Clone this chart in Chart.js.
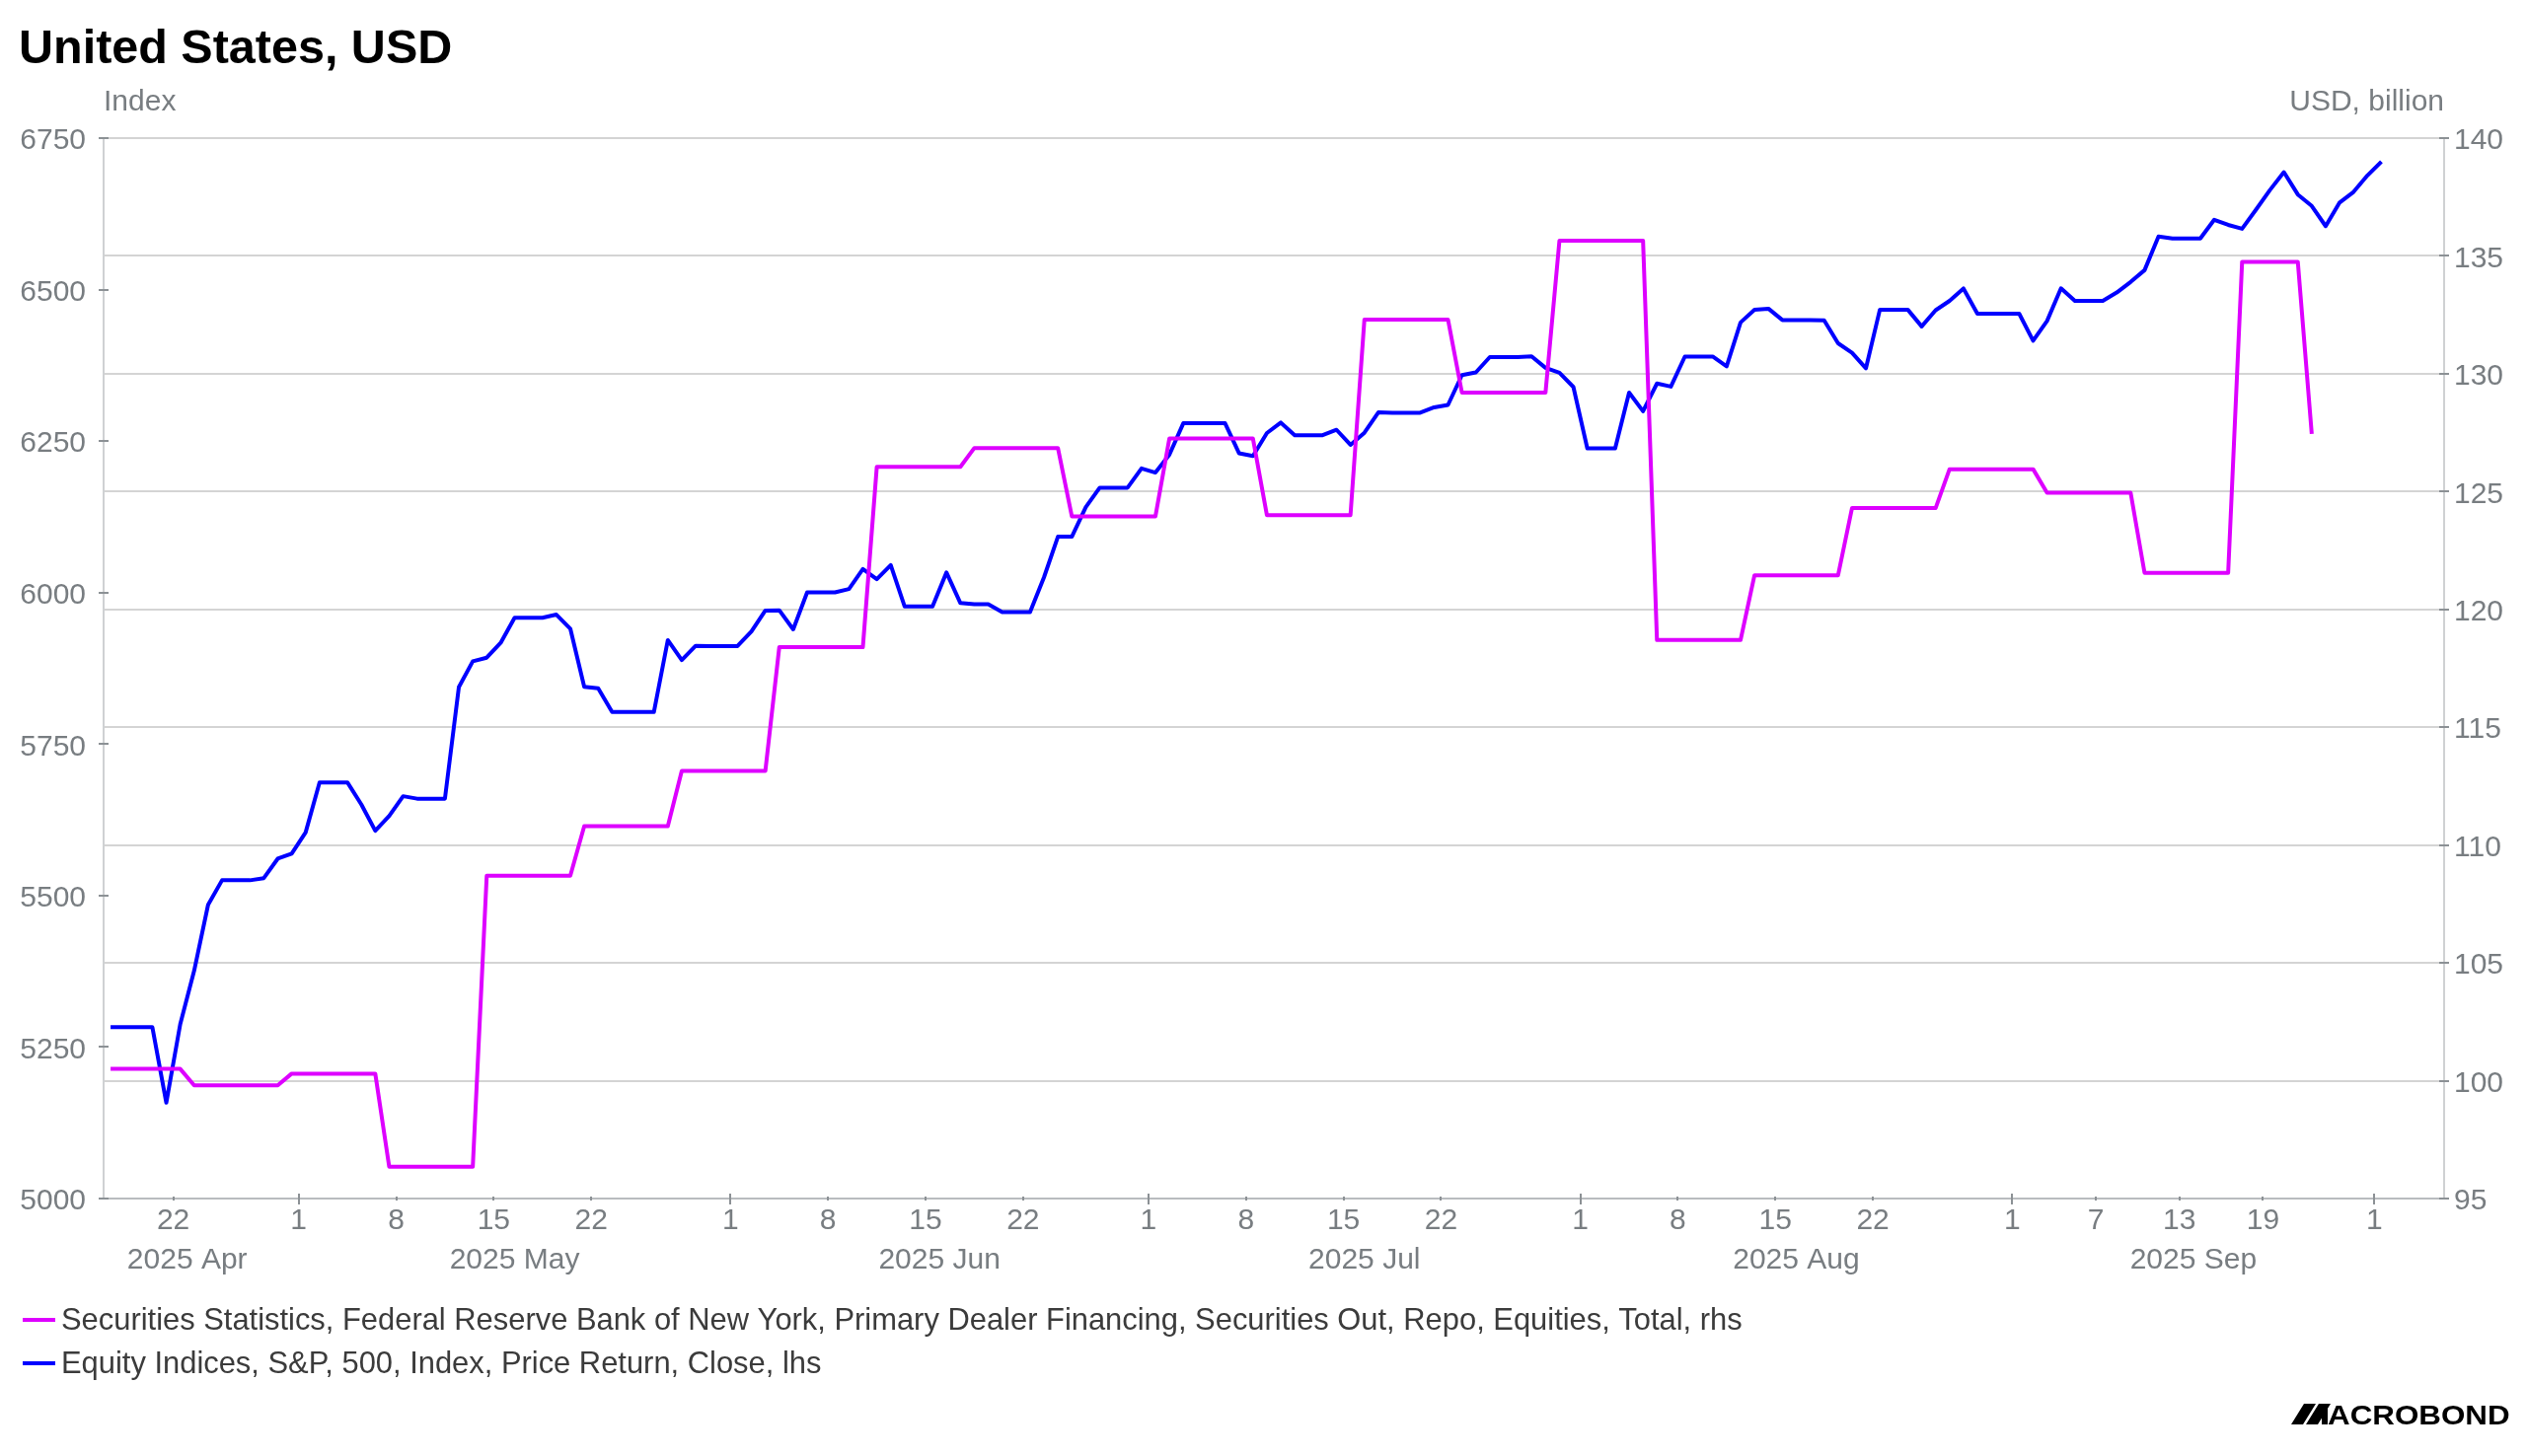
<!DOCTYPE html>
<html>
<head>
<meta charset="utf-8">
<title>United States, USD</title>
<script src="https://cdn.jsdelivr.net/npm/chart.js@4.4.1/dist/chart.umd.min.js"></script>
<style>
  html, body { margin: 0; padding: 0; background: #ffffff; }
  #chart { display: block; }
</style>
</head>
<body>
<canvas id="chart" width="2560" height="1476"></canvas>
<script>
// one slot per date on the x axis (calendar days, then trading days only after 19 Sep)
const dates = [
  '04-17','04-18','04-19','04-20','04-21','04-22','04-23','04-24','04-25','04-26','04-27','04-28','04-29','04-30',
  '05-01','05-02','05-03','05-04','05-05','05-06','05-07','05-08','05-09','05-10','05-11','05-12','05-13','05-14','05-15','05-16',
  '05-17','05-18','05-19','05-20','05-21','05-22','05-23','05-24','05-25','05-26','05-27','05-28','05-29','05-30','05-31',
  '06-01','06-02','06-03','06-04','06-05','06-06','06-07','06-08','06-09','06-10','06-11','06-12','06-13','06-14','06-15',
  '06-16','06-17','06-18','06-19','06-20','06-21','06-22','06-23','06-24','06-25','06-26','06-27','06-28','06-29','06-30',
  '07-01','07-02','07-03','07-04','07-05','07-06','07-07','07-08','07-09','07-10','07-11','07-12','07-13','07-14','07-15','07-16',
  '07-17','07-18','07-19','07-20','07-21','07-22','07-23','07-24','07-25','07-26','07-27','07-28','07-29','07-30','07-31',
  '08-01','08-02','08-03','08-04','08-05','08-06','08-07','08-08','08-09','08-10','08-11','08-12','08-13','08-14','08-15','08-16',
  '08-17','08-18','08-19','08-20','08-21','08-22','08-23','08-24','08-25','08-26','08-27','08-28','08-29','08-30','08-31',
  '09-01','09-02','09-03','09-04','09-05','09-06','09-07','09-08','09-09','09-10','09-11','09-12','09-13','09-14','09-15','09-16',
  '09-17','09-18','09-19','09-22','09-23','09-24','09-25','09-26','09-29','09-30',
  '10-01'
];

// S&P 500 close, lhs (weekends and holidays flat in the source)
const spx = [
  5282.70, 5282.70, 5282.70, 5282.70, 5158.20, 5287.76, 5375.86, 5484.77, 5525.21, 5525.21, 5525.21, 5528.75, 5560.83, 5569.06,
  5604.14, 5686.67, 5686.67, 5686.67, 5650.38, 5606.91, 5631.28, 5663.94, 5659.91, 5659.91, 5659.91, 5844.19, 5886.55, 5892.58, 5916.93, 5958.38,
  5958.38, 5958.38, 5963.60, 5940.46, 5844.61, 5842.01, 5802.82, 5802.82, 5802.82, 5802.82, 5921.54, 5888.55, 5912.17, 5911.69, 5911.69,
  5911.69, 5935.94, 5970.37, 5970.81, 5939.30, 6000.36, 6000.36, 6000.36, 6005.88, 6038.81, 6022.24, 6045.26, 5976.97, 5976.97, 5976.97,
  6033.11, 5982.72, 5980.87, 5980.87, 5967.84, 5967.84, 5967.84, 6025.17, 6092.18, 6092.16, 6141.02, 6173.07, 6173.07, 6173.07, 6204.95,
  6198.01, 6227.42, 6279.35, 6279.35, 6279.35, 6279.35, 6229.98, 6225.52, 6263.26, 6280.46, 6259.75, 6259.75, 6259.75, 6268.56, 6243.76, 6263.70,
  6297.36, 6296.79, 6296.79, 6296.79, 6305.60, 6309.62, 6358.91, 6363.35, 6388.64, 6388.64, 6388.64, 6389.77, 6370.86, 6362.90, 6339.39,
  6238.01, 6238.01, 6238.01, 6329.94, 6299.19, 6345.06, 6340.00, 6389.45, 6389.45, 6389.45, 6373.45, 6445.76, 6466.58, 6468.54, 6449.80, 6449.80,
  6449.80, 6449.15, 6411.37, 6395.78, 6370.17, 6466.91, 6466.91, 6466.91, 6439.32, 6465.94, 6481.40, 6501.86, 6460.26, 6460.26, 6460.26,
  6460.26, 6415.54, 6448.26, 6502.08, 6481.50, 6481.50, 6481.50, 6495.15, 6512.61, 6532.04, 6587.47, 6584.29, 6584.29, 6584.29, 6615.28, 6606.76,
  6600.35, 6631.96, 6664.36, 6693.75, 6656.92, 6637.97, 6604.72, 6643.70, 6661.21, 6688.46,
  6711.20
];

// primary dealer repo financing, equities, USD bn, rhs (ends 24 Sep)
const repo = [
  100.5, 100.5, 100.5, 100.5, 100.5, 100.5, 99.8, 99.8, 99.8, 99.8, 99.8, 99.8, 99.8, 100.3,
  100.3, 100.3, 100.3, 100.3, 100.3, 100.3, 96.35, 96.35, 96.35, 96.35, 96.35, 96.35, 96.35, 108.7, 108.7, 108.7,
  108.7, 108.7, 108.7, 108.7, 110.8, 110.8, 110.8, 110.8, 110.8, 110.8, 110.8, 113.15, 113.15, 113.15, 113.15,
  113.15, 113.15, 113.15, 118.4, 118.4, 118.4, 118.4, 118.4, 118.4, 118.4, 126.05, 126.05, 126.05, 126.05, 126.05,
  126.05, 126.05, 126.85, 126.85, 126.85, 126.85, 126.85, 126.85, 126.85, 123.95, 123.95, 123.95, 123.95, 123.95, 123.95,
  123.95, 127.25, 127.25, 127.25, 127.25, 127.25, 127.25, 127.25, 124.0, 124.0, 124.0, 124.0, 124.0, 124.0, 124.0, 132.3,
  132.3, 132.3, 132.3, 132.3, 132.3, 132.3, 129.2, 129.2, 129.2, 129.2, 129.2, 129.2, 129.2, 135.65, 135.65,
  135.65, 135.65, 135.65, 135.65, 135.65, 118.7, 118.7, 118.7, 118.7, 118.7, 118.7, 118.7, 121.45, 121.45, 121.45, 121.45,
  121.45, 121.45, 121.45, 124.3, 124.3, 124.3, 124.3, 124.3, 124.3, 124.3, 125.95, 125.95, 125.95, 125.95, 125.95,
  125.95, 125.95, 124.95, 124.95, 124.95, 124.95, 124.95, 124.95, 124.95, 121.55, 121.55, 121.55, 121.55, 121.55, 121.55, 121.55,
  134.75, 134.75, 134.75, 134.75, 134.75, 127.45
];

const tickDates = ['04-22','05-01','05-08','05-15','05-22','06-01','06-08','06-15','06-22','07-01','07-08','07-15','07-22',
                   '08-01','08-08','08-15','08-22','09-01','09-07','09-13','09-19','10-01'];
const tickLabels = ['22','1','8','15','22','1','8','15','22','1','8','15','22','1','8','15','22','1','7','13','19','1'];
const monthKeys = ['04','05','06','07','08','09'];
const monthLabels = ['2025 Apr','2025 May','2025 Jun','2025 Jul','2025 Aug','2025 Sep'];

const leftTicks = [5000, 5250, 5500, 5750, 6000, 6250, 6500, 6750];
const rightTicks = [95, 100, 105, 110, 115, 120, 125, 130, 135, 140];

const seriesNames = [
  'Securities Statistics, Federal Reserve Bank of New York, Primary Dealer Financing, Securities Out, Repo, Equities, Total, rhs',
  'Equity Indices, S&P, 500, Index, Price Return, Close, lhs'
];
const seriesColors = ['#dd00ff', '#0000ff'];

const FONT = "'Liberation Sans', Arial, Helvetica, sans-serif";
const GREY = '#787d81';

const tickPos = tickDates.map(d => dates.indexOf(d));
const monthStart = monthKeys.map((m, i) => i === 0 ? 0 : dates.findIndex(d => d.startsWith(m + '-')));
monthStart.push(dates.indexOf('10-01'));

const decor = {
  id: 'decor',
  afterDraw(chart) {
    const ctx = chart.ctx;
    const area = chart.chartArea;
    const x = chart.scales.x, yL = chart.scales.yL, yR = chart.scales.yR;
    ctx.save();

    // title and axis units
    ctx.textBaseline = 'middle';
    ctx.fillStyle = '#000';
    ctx.font = 'bold 48.5px ' + FONT;
    ctx.textAlign = 'left';
    ctx.fillText('United States, USD', 19, 51);
    ctx.fillStyle = GREY;
    ctx.font = '30px ' + FONT;
    ctx.fillText('Index', area.left, 104);
    ctx.textAlign = 'right';
    ctx.fillText('USD, billion', area.right, 104);

    // tick marks crossing the axis lines
    ctx.strokeStyle = '#8c9195';
    ctx.lineWidth = 2;
    ctx.beginPath();
    tickPos.forEach((p, i) => {
      const px = Math.round(x.getPixelForValue(p));
      const major = tickLabels[i] === '1';
      ctx.moveTo(px, area.bottom - (major ? 5 : 2));
      ctx.lineTo(px, area.bottom + (major ? 6 : 2));
    });
    leftTicks.forEach(v => {
      const py = Math.round(yL.getPixelForValue(v));
      ctx.moveTo(area.left - 5, py);
      ctx.lineTo(area.left + 5, py);
    });
    rightTicks.forEach(v => {
      const py = Math.round(yR.getPixelForValue(v));
      ctx.moveTo(area.right - 5, py);
      ctx.lineTo(area.right + 5, py);
    });
    ctx.stroke();

    // month labels under the day ticks
    ctx.fillStyle = GREY;
    ctx.font = '30px ' + FONT;
    ctx.textAlign = 'center';
    monthLabels.forEach((lab, i) => {
      let mid = (monthStart[i] + monthStart[i + 1]) / 2;
      if (i === 0) mid -= 1; // partial first month sits a bit left
      ctx.fillText(lab, x.getPixelForValue(mid), 1278);
    });

    // legend
    ctx.textAlign = 'left';
    ctx.font = '30.9px ' + FONT;
    seriesNames.forEach((name, i) => {
      const cy = 1338 + i * 44;
      ctx.strokeStyle = seriesColors[i];
      ctx.lineWidth = 4;
      ctx.beginPath();
      ctx.moveTo(23, cy);
      ctx.lineTo(56, cy);
      ctx.stroke();
      ctx.fillStyle = '#3b3b3b';
      ctx.fillText(name, 62, cy + 1);
    });

    // logo
    ctx.fillStyle = '#000';
    ctx.beginPath();
    ctx.moveTo(2322, 1444); ctx.lineTo(2334, 1444); ctx.lineTo(2347, 1423); ctx.lineTo(2335, 1423); ctx.closePath();
    ctx.moveTo(2337, 1444); ctx.lineTo(2349, 1444); ctx.lineTo(2362, 1423); ctx.lineTo(2350, 1423); ctx.closePath();
    ctx.fill();
    ctx.fillRect(2353, 1423, 6, 21);
    ctx.save();
    ctx.translate(2359, 1444);
    ctx.scale(1.12, 1);
    ctx.font = 'bold 28px ' + FONT;
    ctx.textBaseline = 'alphabetic';
    ctx.fillText('ACROBOND', 0, 0);
    ctx.restore();

    ctx.restore();
  }
};

function main() {
  const canvas = document.querySelector('#chart');

  const chart = new Chart(canvas, {
    type: 'line',
    data: {
      datasets: [
        {
          label: seriesNames[0],
          data: repo.map((v, i) => ({ x: i + 0.5, y: v })),
          yAxisID: 'yR',
          borderColor: seriesColors[0],
          borderWidth: 4,
          pointRadius: 0,
          tension: 0,
          borderJoinStyle: 'round'
        },
        {
          label: seriesNames[1],
          data: spx.map((v, i) => ({ x: i + 0.5, y: v })),
          yAxisID: 'yL',
          borderColor: seriesColors[1],
          borderWidth: 4,
          pointRadius: 0,
          tension: 0,
          borderJoinStyle: 'round'
        }
      ]
    },
    options: {
      responsive: false,
      animation: false,
      devicePixelRatio: 1,
      layout: { padding: { top: 140, left: 0, right: 0, bottom: 0 } },
      plugins: {
        legend: { display: false },
        title: { display: false },
        tooltip: { enabled: false }
      },
      scales: {
        x: {
          type: 'linear',
          min: 0,
          max: dates.length + 4,
          afterBuildTicks: (scale) => { scale.ticks = tickPos.map(v => ({ value: v })); },
          afterFit: (scale) => { scale.height = 261; },
          ticks: {
            autoSkip: false,
            maxRotation: 0,
            padding: 0,
            color: GREY,
            font: { family: FONT, size: 30 },
            callback: (value) => tickLabels[tickPos.indexOf(value)]
          },
          grid: { drawOnChartArea: false, color: 'rgba(0,0,0,0)', tickLength: 5 },
          border: { display: true, color: '#b9bcbf', width: 2 }
        },
        yL: {
          position: 'left',
          min: 5000,
          max: 6750,
          afterFit: (scale) => { scale.width = 105; },
          ticks: {
            stepSize: 250,
            padding: 13,
            labelOffset: 3,
            color: GREY,
            font: { family: FONT, size: 30 },
            callback: (value) => String(value)
          },
          grid: { drawOnChartArea: false, color: 'rgba(0,0,0,0)', tickLength: 5 },
          border: { display: true, color: '#cfd1d3', width: 2 }
        },
        yR: {
          position: 'right',
          min: 95,
          max: 140,
          afterFit: (scale) => { scale.width = 83; },
          ticks: {
            stepSize: 5,
            padding: 5,
            labelOffset: 3,
            color: GREY,
            font: { family: FONT, size: 30 },
            callback: (value) => String(value)
          },
          grid: { color: '#d4d4d4', lineWidth: 2, tickColor: 'rgba(0,0,0,0)', tickLength: 5 },
          border: { display: true, color: '#cfd1d3', width: 2 }
        }
      }
    },
    plugins: [decor]
  });

  return chart;
}

main();
</script>
</body>
</html>
